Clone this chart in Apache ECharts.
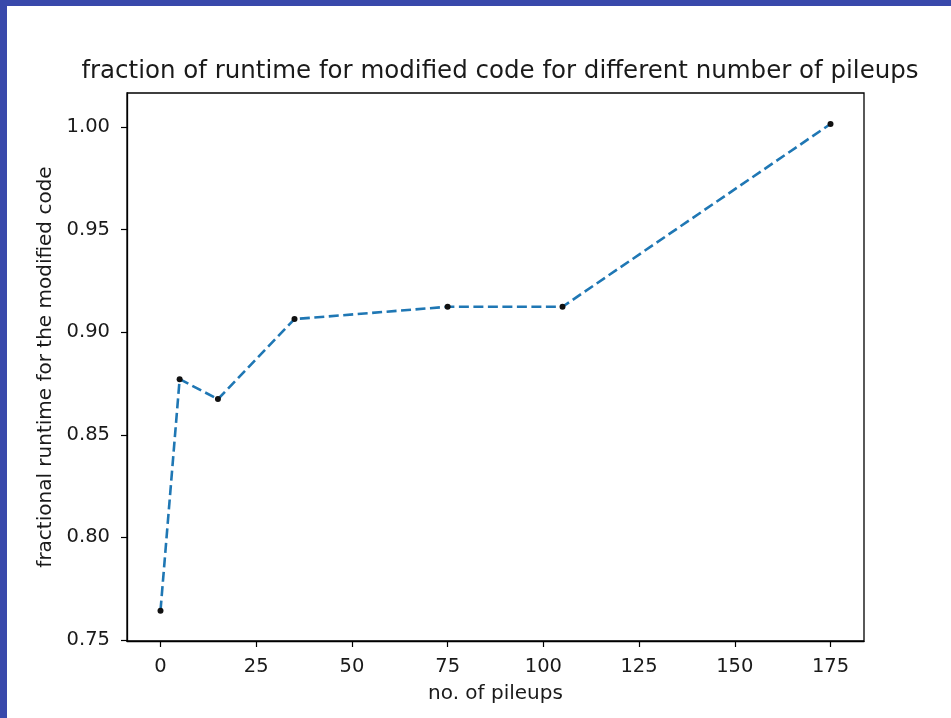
<!DOCTYPE html>
<html>
<head>
<meta charset="utf-8">
<script src="https://cdn.jsdelivr.net/npm/echarts@6/dist/echarts.min.js"></script>
<style>
  html, body { margin: 0; padding: 0; background: #ffffff; }
  #chart { width: 951px; height: 718px; }
</style>
</head>
<body>
<div id="chart"></div>
<script>
// Number of pileups and the corresponding fractional runtime of the modified code
const pileups = [0, 5, 15, 35, 75, 105, 175];
const fractionalRuntime = [0.7643, 0.8771, 0.8674, 0.9064, 0.9124, 0.9124, 1.0015];

// Tick positions and labels
const xTicks = [0, 25, 50, 75, 100, 125, 150, 175];
const yTicks = [0.75, 0.80, 0.85, 0.90, 0.95, 1.00];

const titleText = 'fraction of runtime for modified code for different number of pileups';
const xLabel = 'no. of pileups';
const yLabel = 'fractional runtime for the modified code';

const FONT = '"DejaVu Sans", sans-serif';
const TEXT = '#1a1a1a';
const FRAME = '#3949ab';

const chart = echarts.init(document.getElementById('chart'), null, { renderer: 'canvas' });

chart.setOption({
  backgroundColor: '#ffffff',
  animation: false,
  graphic: [
    { type: 'rect', left: 0, top: 0, shape: { width: 951, height: 6 }, style: { fill: FRAME }, silent: true },
    { type: 'rect', left: 0, top: 0, shape: { width: 7, height: 718 }, style: { fill: FRAME }, silent: true }
  ],
  title: {
    text: titleText,
    left: 495,
    textAlign: 'center',
    top: 54,
    textStyle: { fontFamily: FONT, fontSize: 24.5, fontWeight: 'normal', color: TEXT }
  },
  grid: {
    left: 127, right: 87, top: 93, bottom: 77,
    show: true, borderColor: '#000000', borderWidth: 1.3, backgroundColor: '#ffffff'
  },
  xAxis: {
    type: 'value',
    min: -8.75,
    max: 183.75,
    name: xLabel,
    nameLocation: 'middle',
    nameGap: 43,
    nameTextStyle: { fontFamily: FONT, fontSize: 20, color: TEXT },
    axisLine: { show: true, onZero: false, lineStyle: { color: '#000000', width: 1.3 } },
    axisTick: { show: true, length: 6, inside: false, lineStyle: { color: '#000000', width: 1.2 }, customValues: xTicks },
    axisLabel: { fontFamily: FONT, fontSize: 19.5, color: TEXT, margin: 16, customValues: xTicks,
                 formatter: v => String(v) },
    splitLine: { show: false }
  },
  yAxis: {
    type: 'value',
    min: 0.7495,
    max: 1.0166,
    name: yLabel,
    nameLocation: 'middle',
    nameGap: 71,
    nameTextStyle: { fontFamily: FONT, fontSize: 20, color: TEXT },
    axisLine: { show: true, onZero: false, lineStyle: { color: '#000000', width: 1.3 } },
    axisTick: { show: true, length: 6, inside: false, lineStyle: { color: '#000000', width: 1.2 }, customValues: yTicks },
    axisLabel: { fontFamily: FONT, fontSize: 19.5, color: TEXT, margin: 17, customValues: yTicks,
                 formatter: v => v.toFixed(2) },
    splitLine: { show: false }
  },
  series: [
    {
      type: 'line',
      data: pileups.map((x, i) => [x, fractionalRuntime[i]]),
      symbol: 'circle',
      symbolSize: 6,
      showSymbol: true,
      itemStyle: { color: '#111111' },
      lineStyle: { color: '#1f77b4', width: 2.6, type: [10, 4.5] },
      z: 3
    }
  ]
});
</script>
</body>
</html>
